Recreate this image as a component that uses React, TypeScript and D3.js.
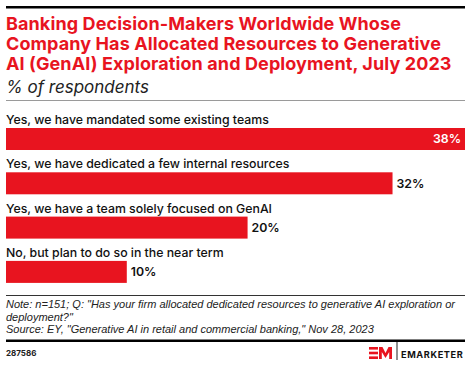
import React from 'react'
import * as d3 from 'd3'

const categories = [
  'Yes, we have mandated some existing teams',
  'Yes, we have dedicated a few internal resources',
  'Yes, we have a team solely focused on GenAI',
  'No, but plan to do so in the near term',
]
const values = [38, 32, 20, 10]

const titleLines = [
  'Banking Decision-Makers Worldwide Whose',
  'Company Has Allocated Resources to Generative',
  'AI (GenAI) Exploration and Deployment, July 2023',
]
const subtitle = '% of respondents'
const noteLines = [
  'Note: n=151; Q: "Has your firm allocated dedicated resources to generative AI exploration or',
  'deployment?"',
  'Source: EY, "Generative AI in retail and commercial banking," Nov 28, 2023',
]
const chartId = '287586'

const W = 470
const H = 365
const RED = '#E8141F'
const FONT = 'Inter, "Noto Sans", sans-serif'
const NOTE_FONT = '"Liberation Sans", Arial, sans-serif'

const App = () => {
  const x = d3.scaleLinear().domain([0, d3.max(values)]).range([6, 465])
  const y = d3.scaleBand().domain(categories).range([106, 283.2]).padding(0)

  return (
    <svg width={W} height={H} style={{ position: 'absolute', left: 0, top: 0, background: '#fff' }}>
      <rect x={6} y={6} width={459} height={2.5} fill="#000" />
      {titleLines.map((t, i) => (
        <text key={i} x={6} y={30 + i * 20} fill={RED} fontFamily={FONT} fontWeight={700} fontSize={18} letterSpacing={0.1}>
          {t}
        </text>
      ))}
      <text x={6} y={93} fontFamily={FONT} fontStyle="italic" fontSize={17} fill="#222">
        {subtitle}
      </text>
      <rect x={6} y={100} width={459} height={1} fill="#9a9a9a" />

      {categories.map((c, i) => {
        const by = y(c)
        const v = values[i]
        const inside = i === 0
        return (
          <g key={c}>
            <text x={6} y={by + 18} fontFamily={FONT} fontWeight={500} fontSize={12.3} fill="#111">
              {c}
            </text>
            <rect x={x(0)} y={by + 22} width={x(v) - x(0)} height={22} fill={RED} />
            <text
              x={inside ? x(v) - 4 : x(v) + 4}
              y={by + 33}
              dy="0.35em"
              textAnchor={inside ? 'end' : 'start'}
              fontFamily={FONT}
              fontWeight={600}
              fontSize={12.3}
              fill={inside ? '#fff' : '#111'}
            >
              {v}%
            </text>
          </g>
        )
      })}

      <rect x={6} y={295} width={459} height={1} fill="#333" />
      {noteLines.map((t, i) => (
        <text key={i} x={6} y={308 + i * 12.7} fontFamily={NOTE_FONT} fontStyle="italic" fontSize={11} fill="#222">
          {t}
        </text>
      ))}
      <rect x={6} y={339.5} width={459} height={2.5} fill="#000" />
      <text x={6} y={356} fontFamily={FONT} fontWeight={700} fontSize={8} fill="#222">
        {chartId}
      </text>

      <g transform="translate(369,347)">
        <rect x={0} y={0} width={9} height={2.6} fill={RED} />
        <rect x={0} y={4.7} width={9} height={2.6} fill={RED} />
        <rect x={0} y={9.4} width={9} height={2.6} fill={RED} />
        <path d="M10,12 L10,0 L13.5,0 L16.5,6 L19.5,0 L23,0 L23,12 L20.2,12 L20.2,5 L16.5,11 L12.8,5 L12.8,12 Z" fill={RED} />
      </g>
      <rect x={396.5} y={342} width={1} height={18} fill="#222" />
      <text x={401} y={358} fontFamily={FONT} fontWeight={700} fontSize={9.2} letterSpacing={0.6} fill="#111">
        EMARKETER
      </text>
    </svg>
  )
}

export default App
